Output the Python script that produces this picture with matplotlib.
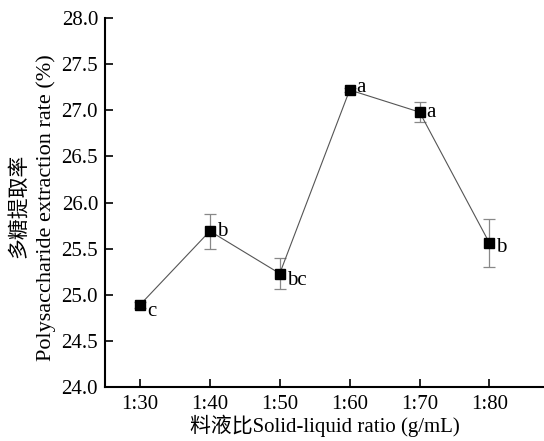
import matplotlib
matplotlib.use("Agg")
import matplotlib.pyplot as plt

# data
ratios = ["1:30", "1:40", "1:50", "1:60", "1:70", "1:80"]
rate = [24.89, 25.69, 25.23, 27.22, 26.98, 25.56]
err = [0.03, 0.19, 0.17, 0.02, 0.11, 0.26]
letters = ["c", "b", "bc", "a", "a", "b"]
letter_dy = [-5, 0, -5, 2, 0, -3]

plt.rcParams["font.family"] = ["Liberation Serif", "Noto Sans CJK SC"]
plt.rcParams["font.size"] = 15

fig = plt.figure(figsize=(5.44, 4.41), dpi=100)
ax = fig.add_axes([105 / 544, 54 / 441, 439 / 544, 369 / 441])

x = list(range(len(ratios)))
ax.errorbar(x, rate, yerr=err, color="#555555", lw=0.8, ecolor="#888888",
            elinewidth=0.9, capsize=4, capthick=0.9, marker="s", ms=6.5,
            mfc="black", mec="black", zorder=3)

for xi, yi, lab, dy in zip(x, rate, letters, letter_dy):
    ax.annotate(lab, (xi, yi), xytext=(5, dy), textcoords="offset points",
                va="center", ha="left", fontsize=15)

ax.set_xlim(-0.5, 5.78)
ax.set_ylim(24.0, 28.0)
ax.set_xticks(x)
ax.set_xticklabels(ratios)
ax.set_yticks([24.0 + 0.5 * i for i in range(9)])
ax.set_yticklabels([f"{24.0 + 0.5 * i:.1f}" for i in range(9)])

for s in ["top", "right"]:
    ax.spines[s].set_visible(False)
for s in ["left", "bottom"]:
    ax.spines[s].set_linewidth(1.5)
ax.tick_params(direction="in", width=1.2, length=6, labelsize=15)
ax.tick_params(axis="x", pad=6)
ax.tick_params(axis="y", pad=5)

ax.set_xlabel("料液比Solid-liquid ratio (g/mL)", fontsize=15, labelpad=0)

# two-line y label, drawn as separate texts so the lines don't collide
fig.text(19 / 544, 1 - 206 / 441, "多糖提取率", rotation=90, fontsize=15,
         ha="center", va="center")
fig.text(46 / 544, 1 - 208 / 441, "Polysaccharide extraction rate (%)",
         rotation=90, fontsize=16, ha="center", va="center")

fig.savefig("out.png", dpi=100)
